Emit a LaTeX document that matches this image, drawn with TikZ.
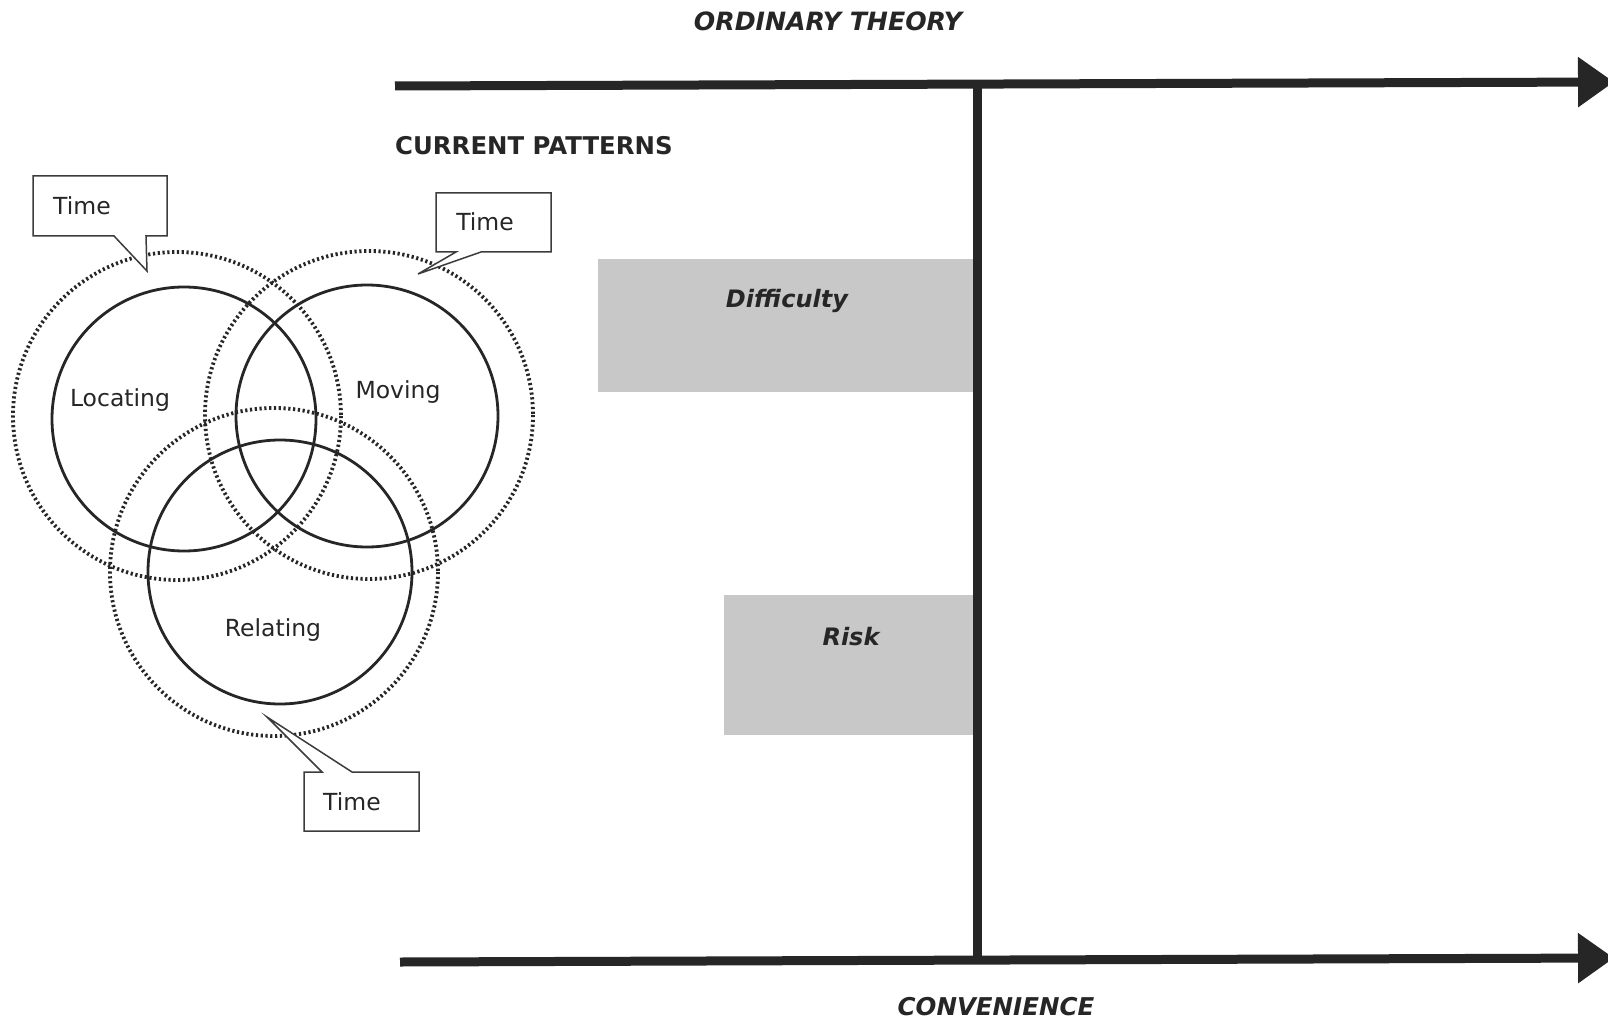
\documentclass[tikz,border=0pt]{standalone}
\usepackage{fontspec}
\setmainfont{DejaVu Sans}
\usetikzlibrary{arrows.meta}
\definecolor{ink}{HTML}{262626}
\definecolor{barfill}{HTML}{C8C8C8}
\begin{document}
\begin{tikzpicture}[x=1pt,y=-1pt,
  axis/.style={line width=9, draw=ink, -{Triangle[length=36,width=48]}},
  divider/.style={line width=9, draw=ink},
  ring/.style={line width=2.8, draw=ink},
  halo/.style={line width=3.8, draw=ink, dash pattern=on 2.2 off 2.6},
  bubble/.style={draw=ink!90, line width=1.5, fill=white},
  lbl/.style={font=\fontsize{23.5}{27}\selectfont, text=ink, inner sep=0},
  head/.style={font=\fontsize{25.2}{29}\selectfont\bfseries\itshape, text=ink, inner sep=0},
  band/.style={fill=barfill, draw=none, inner sep=0, anchor=north west},
]
\useasboundingbox (0,0) rectangle (1608,1024);
\fill[white] (0,0) rectangle (1608,1024);

% axis titles
\node[head] (ordinary) at (828,21) {ORDINARY THEORY};
\node[head, font=\fontsize{24.5}{29}\selectfont\bfseries\itshape] (convenience) at (996,1007) {CONVENIENCE};
\node[lbl, font=\fontsize{24.4}{28}\selectfont\bfseries, anchor=west] (current) at (395,146) {CURRENT PATTERNS};

% shaded bars
\node[band, minimum width=376pt, minimum height=133pt] (diffbar) at (598,259) {};
\node[band, minimum width=250pt, minimum height=140pt] (riskbar) at (724,595) {};
\node[head, font=\fontsize{24}{27}\selectfont\bfseries\itshape] (diff) at (787,301) {Difficulty};
\node[head, font=\fontsize{24}{27}\selectfont\bfseries\itshape] (risk) at (851,637) {Risk};

% axes
\coordinate (topL) at (395,86);
\coordinate (topR) at (1614,82);
\coordinate (botL) at (400,962);
\coordinate (botR) at (1614,958);
\coordinate (vTop) at (977,80);
\coordinate (vBot) at (977,964);
\draw[axis] (topL) -- (topR);
\draw[axis] (botL) -- (botR);
\draw[divider] (vTop) -- (vBot);

% outer time rings
\draw[halo] (177,416) circle[radius=164];
\draw[halo] (369,415) circle[radius=164];
\draw[halo] (274,572) circle[radius=164];

% activity circles
\draw[ring] (184,419) circle[radius=132];
\draw[ring] (367,416) circle[radius=131];
\draw[ring] (280,572) circle[radius=132];

\node[lbl] (locating) at (120,400) {Locating};
\node[lbl] (moving) at (398,392) {Moving};
\node[lbl] (relating) at (273,630) {Relating};

% time callouts
\draw[bubble] (33,176) -- (167,176) -- (167,236) -- (146,236) -- (147,271)
  -- (114,236) -- (33,236) -- cycle;
\node[lbl] (time1) at (82,206) {Time};

\draw[bubble] (436,193) -- (551,193) -- (551,252) -- (481,252) -- (418,274)
  -- (456,252) -- (436,252) -- cycle;
\node[lbl] (time2) at (485,222) {Time};

\draw[bubble] (304,772) -- (322,772) -- (267,717) -- (352,772) -- (419,772)
  -- (419,831) -- (304,831) -- cycle;
\node[lbl] (time3) at (352,802) {Time};
\end{tikzpicture}
\end{document}
